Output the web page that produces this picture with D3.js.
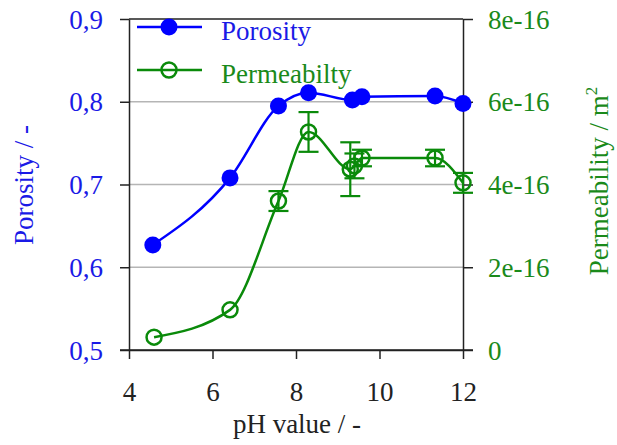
<!doctype html>
<html lang="en">
<head>
<meta charset="utf-8">
<title>Porosity and permeability vs pH</title>
<style>
  body { margin: 0; background: #fff; }
  svg text { font-family: "Liberation Serif", "Times New Roman", serif; }
</style>
</head>
<body>
<svg width="617" height="445"></svg>
<script src="https://cdn.jsdelivr.net/npm/d3@7"></script>
<script>
// data
var phPoro = [4.57, 6.42, 7.58, 8.3, 9.35, 9.58, 11.33, 12];
var porosity = [0.627, 0.708, 0.795, 0.811, 0.802, 0.806, 0.807, 0.798];

var phPerm = [4.6, 6.42, 7.58, 8.3, 9.3, 9.4, 9.58, 11.33, 12];
var permeability = [0.31e-16, 0.97e-16, 3.6e-16, 5.27e-16, 4.37e-16, 4.45e-16, 4.64e-16, 4.64e-16, 4.04e-16];
var permError = [0, 0, 0.24e-16, 0.48e-16, 0.65e-16, 0.3e-16, 0.2e-16, 0.2e-16, 0.24e-16];

var xTicks = [4, 6, 8, 10, 12];
var poroTicks = [0.5, 0.6, 0.7, 0.8, 0.9];
var permTicks = [0, 2e-16, 4e-16, 6e-16, 8e-16];
var gridTicks = [0.6, 0.7, 0.8];

var blue = "#0000ff", green = "#0a8a0a";
var blueText = "#1a1ae6", greenText = "#1a8a1a";
var fs = "27px";

var svg = d3.select("svg");
var x = d3.scaleLinear().domain([4, 12]).range([129, 463]);
var yL = d3.scaleLinear().domain([0.5, 0.9]).range([350, 19]);
var yR = d3.scaleLinear().domain([0, 8e-16]).range([350, 19]);

// grid
svg.append("g").selectAll("line").data(gridTicks).enter().append("line")
  .attr("x1", x(4)).attr("x2", x(12))
  .attr("y1", d => yL(d)).attr("y2", d => yL(d))
  .style("stroke", "#b5b5b5").style("stroke-width", 1.5);

// frame top
svg.append("line").attr("x1", x(4)).attr("x2", x(12)).attr("y1", yL(0.9)).attr("y2", yL(0.9))
  .style("stroke", "#222").style("stroke-width", 1.5);

// axes
var gx = svg.append("g").attr("transform", `translate(0,${yL(0.5)})`)
  .call(d3.axisBottom(x).tickValues(xTicks).tickSize(9).tickSizeOuter(0).tickPadding(14));
var gl = svg.append("g").attr("transform", `translate(${x(4)},0)`)
  .call(d3.axisLeft(yL).tickValues(poroTicks).tickSize(9).tickSizeOuter(0).tickPadding(17)
    .tickFormat(d => d3.format(".1f")(d).replace(".", ",")));
var gr = svg.append("g").attr("transform", `translate(${x(12)},0)`)
  .call(d3.axisRight(yR).tickValues(permTicks).tickSize(10).tickSizeOuter(0).tickPadding(15)
    .tickFormat(d => d === 0 ? "0" : Math.round(d / 1e-16) + "e-16"));

[gx, gl, gr].forEach(g => {
  g.attr("font-family", null).attr("font-size", null);
  g.selectAll("path, line").style("stroke", "#222").style("stroke-width", 1.5);
  g.selectAll("text").style("font-size", fs);
});
gx.selectAll("text").style("fill", "#222").attr("dy", null).attr("y", 51);
gl.selectAll("text").style("fill", blueText).attr("dy", "0.34em");
gr.selectAll("text").style("fill", greenText).attr("dy", "0.34em");
// bottom line spans a bit past both axes
svg.append("line").attr("x1", x(4) - 9).attr("x2", x(12) + 10).attr("y1", yL(0.5)).attr("y2", yL(0.5))
  .style("stroke", "#222").style("stroke-width", 1.5);

// axis titles
svg.append("text").attr("transform", "translate(33,185) rotate(-90)")
  .attr("text-anchor", "middle").style("font-size", fs).style("fill", blueText)
  .text("Porosity / -");
var rt = svg.append("text").attr("transform", "translate(608,181) rotate(-90)")
  .attr("text-anchor", "middle").style("font-size", fs).style("fill", greenText);
rt.append("tspan").text("Permeability / m");
rt.append("tspan").attr("dy", -11).style("font-size", "17px").text("2");
svg.append("text").attr("x", 297).attr("y", 433).attr("text-anchor", "middle")
  .style("font-size", fs).style("fill", "#222").text("pH value / -");

// porosity series
var poroData = phPoro.map((p, i) => ({ x: p, y: porosity[i] }));
svg.append("path").datum(poroData)
  .attr("d", d3.line().x(d => x(d.x)).y(d => yL(d.y)).curve(d3.curveMonotoneX))
  .style("fill", "none").style("stroke", blue).style("stroke-width", 2.5);
svg.append("g").selectAll("circle").data(poroData).enter().append("circle")
  .attr("cx", d => x(d.x)).attr("cy", d => yL(d.y)).attr("r", 8.5)
  .style("fill", blue);

// permeability series
var permData = phPerm.map((p, i) => ({ x: p, y: permeability[i], e: permError[i] }));
svg.append("path").datum(permData)
  .attr("d", d3.line().x(d => x(d.x)).y(d => yR(d.y)).curve(d3.curveMonotoneX))
  .style("fill", "none").style("stroke", green).style("stroke-width", 2.5);
var eb = svg.append("g").selectAll("g").data(permData.filter(d => d.e > 0)).enter().append("g")
  .style("stroke", green).style("stroke-width", 2.2);
eb.append("line").attr("x1", d => x(d.x)).attr("x2", d => x(d.x))
  .attr("y1", d => yR(d.y + d.e)).attr("y2", d => yR(d.y - d.e));
eb.append("line").attr("x1", d => x(d.x) - 10).attr("x2", d => x(d.x) + 10)
  .attr("y1", d => yR(d.y + d.e)).attr("y2", d => yR(d.y + d.e));
eb.append("line").attr("x1", d => x(d.x) - 10).attr("x2", d => x(d.x) + 10)
  .attr("y1", d => yR(d.y - d.e)).attr("y2", d => yR(d.y - d.e));
svg.append("g").selectAll("circle").data(permData).enter().append("circle")
  .attr("cx", d => x(d.x)).attr("cy", d => yR(d.y)).attr("r", 7.5)
  .style("fill", "none").style("stroke", green).style("stroke-width", 2.5);

// legend
var legend = [
  { name: "Porosity", color: blue, text: blueText, filled: true, y: 27 },
  { name: "Permeabilty", color: green, text: greenText, filled: false, y: 70 }
];
var lg = svg.append("g").selectAll("g").data(legend).enter().append("g");
lg.append("line").attr("x1", 137).attr("x2", 202).attr("y1", d => d.y).attr("y2", d => d.y)
  .style("stroke", d => d.color).style("stroke-width", 2.5);
lg.append("circle").attr("cx", 169).attr("cy", d => d.y).attr("r", d => d.filled ? 8.5 : 7.5)
  .style("fill", d => d.filled ? d.color : "none").style("stroke", d => d.color)
  .style("stroke-width", d => d.filled ? 0 : 2.5);
lg.append("text").attr("x", 221).attr("y", d => d.y + 13).style("font-size", fs)
  .style("fill", d => d.text).text(d => d.name);
</script>
</body>
</html>
